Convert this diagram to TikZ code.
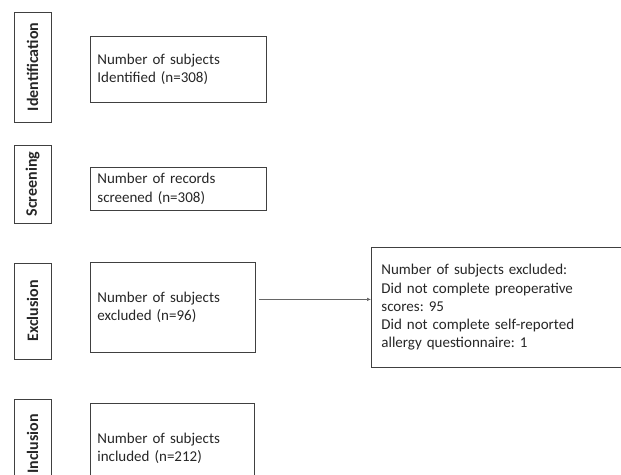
\documentclass[tikz,border=0pt]{standalone}
\usepackage{fontspec}
\setmainfont{Carlito}
\usetikzlibrary{arrows.meta,positioning}
\frenchspacing

\begin{document}
\begin{tikzpicture}[
    x=1pt, y=-1pt,
    font=\fontsize{15}{18.3}\selectfont,
    box/.style={rectangle, draw=black!75, line width=0.8pt, text=black!85,
                align=left, anchor=north west, inner xsep=7pt, inner ysep=0pt},
    stage/.style={rectangle, draw=black!75, line width=0.8pt, text=black!85, rotate=90,
                  minimum height=37pt, inner sep=0pt, font=\bfseries\fontsize{16}{18}\selectfont},
    arr/.style={-{Latex[length=4pt,width=3.5pt]}, line width=0.6pt, black!60}
]
\useasboundingbox (0,0) rectangle (621,474);
\clip (0,0) rectangle (621,474);

% ---- Stage labels ----
\node[stage, minimum width=110pt] (ident) at (32.5,67) {Identification};
\node[stage, minimum width=78pt] (screen) at (32.5,184) {Screening};
\node[stage, minimum width=96pt] (excl) at (32.5,311) {Exclusion};
\node[stage, minimum width=90pt] (incl) at (32.5,444) {Inclusion};

% ---- Flow boxes ----
\node[box, text width=162pt, minimum height=66pt] (identbox) at (90,36)
    {Number of subjects\\Identified (n=308)};
\node[box, text width=162pt, minimum height=43pt] (screenbox) at (90,167)
    {Number of records\\screened (n=308)};
\node[box, text width=151pt, minimum height=90pt] (exclbox) at (90,262)
    {Number of subjects\\excluded (n=96)};
\node[box, text width=150pt, minimum height=90pt] (inclbox) at (90,403)
    {Number of subjects\\included (n=212)};

% ---- Reasons for exclusion ----
\node[box, text width=240pt, inner xsep=10pt, minimum height=120pt] (reasons) at (371,247)
    {Number of subjects excluded:\\Did not complete preoperative\\scores: 95\\Did not complete self-reported\\allergy questionnaire: 1};
\draw[arr, shorten <=3pt] ([yshift=8pt]exclbox.east) -- ([yshift=8pt]exclbox.east -| reasons.west);

\end{tikzpicture}
\end{document}
